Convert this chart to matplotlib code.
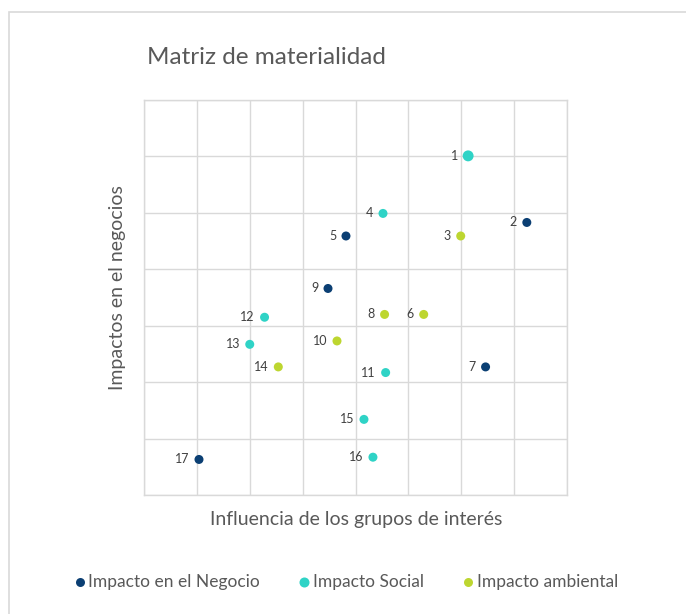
import matplotlib
matplotlib.use("Agg")
import matplotlib.pyplot as plt
from matplotlib.patches import Rectangle

plt.rcParams['font.family'] = ['Lato', 'DejaVu Sans']

# Data (grid units)
labels = ["1", "2", "3", "4", "5", "6", "7", "8", "9", "10",
          "11", "12", "13", "14", "15", "16", "17"]
influencia = [6.13, 7.24, 5.99, 4.52, 3.82, 5.29, 6.46, 4.55, 3.48, 3.65,
              4.57, 2.28, 2.00, 2.54, 4.16, 4.33, 1.04]
impacto = [6.01, 4.83, 4.59, 4.99, 4.59, 3.20, 2.27, 3.20, 3.66, 2.73,
           2.17, 3.15, 2.67, 2.27, 1.34, 0.67, 0.63]
categoria = ["Social", "Negocio", "Ambiental", "Social", "Negocio", "Ambiental",
             "Negocio", "Ambiental", "Negocio", "Ambiental", "Social", "Social",
             "Social", "Ambiental", "Social", "Social", "Negocio"]
series_names = ["Impacto en el Negocio", "Impacto Social", "Impacto ambiental"]
series_keys = ["Negocio", "Social", "Ambiental"]
colors = {"Negocio": "#0b3f73", "Social": "#2fd3c6", "Ambiental": "#bdd630"}

fig = plt.figure(figsize=(6.86, 6.14), dpi=100)
fig.patches.append(Rectangle((9 / 686, -0.1), 1.1, 1 - 12 / 614 + 0.1,
                             transform=fig.transFigure, fill=False,
                             edgecolor="#d9d9d9", linewidth=1.2))

ax = fig.add_axes([144 / 686, 1 - 495 / 614, (567 - 144) / 686, (495 - 100) / 614])
ax.set_xlim(0, 8)
ax.set_ylim(0, 7)
ax.set_xticks(range(0, 9))
ax.set_yticks(range(0, 8))
ax.tick_params(length=0, labelbottom=False, labelleft=False)
ax.grid(True, color="#d9d9d9", linewidth=1)
ax.set_axisbelow(True)
for s in ax.spines.values():
    s.set_color("#d9d9d9")
    s.set_linewidth(1)

for key, name in zip(series_keys, series_names):
    xs = [x for x, c in zip(influencia, categoria) if c == key]
    ys = [y for y, c in zip(impacto, categoria) if c == key]
    sizes = [62 if l == "1" else 42 for l, c in zip(labels, categoria) if c == key]
    ax.scatter(xs, ys, s=sizes, color=colors[key], label=name, zorder=3,
               linewidths=0)

for l, x, y in zip(labels, influencia, impacto):
    ax.annotate(l, (x, y), xytext=(-7, 0), textcoords="offset points",
                ha="right", va="center", fontsize=9, color="#404040")

fig.text(266 / 686, 1 - 57 / 614, "Matriz de materialidad", ha="center",
         va="center", fontsize=17.5, color="#595959")
fig.text(118 / 686, 1 - 288 / 614, "Impactos en el negocios", rotation=90,
         ha="center", va="center", fontsize=14, color="#595959")
fig.text(356 / 686, 1 - 520 / 614, "Influencia de los grupos de interés",
         ha="center", va="center", fontsize=14, color="#595959")

handles, lbls = ax.get_legend_handles_labels()
leg = fig.legend(handles, lbls, loc="center", bbox_to_anchor=(346 / 686, 1 - 582 / 614),
                 ncol=3, frameon=False, fontsize=12.5, handletextpad=0.15,
                 handlelength=0.7, columnspacing=2.2, markerscale=1.0)
for t in leg.get_texts():
    t.set_color("#595959")

fig.savefig("out.png", dpi=100)
